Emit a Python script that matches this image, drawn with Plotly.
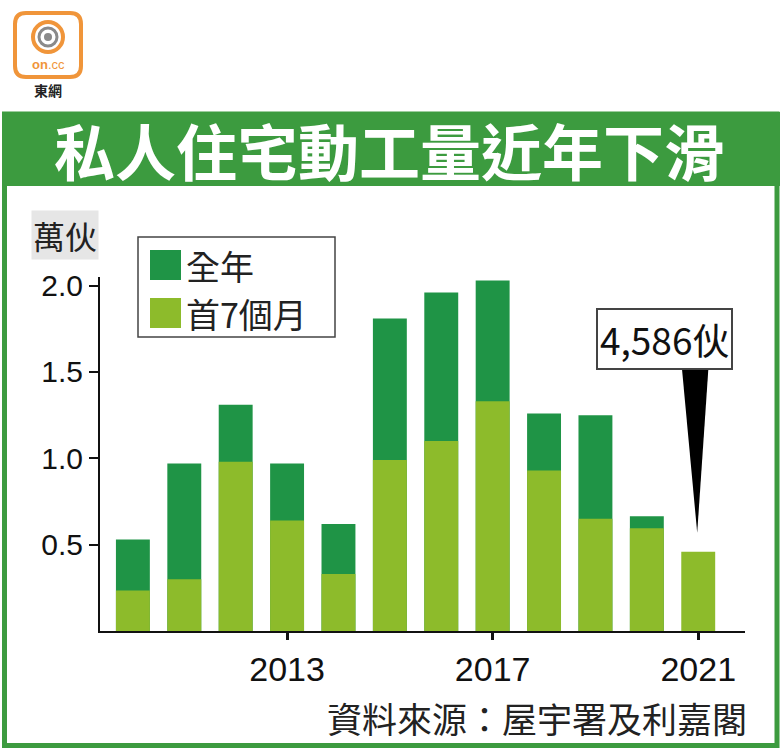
import plotly.graph_objects as go

# ---------------- data ----------------
years = [2010, 2011, 2012, 2013, 2014, 2015, 2016, 2017, 2018, 2019, 2020, 2021]
full_year = [0.53, 0.97, 1.31, 0.97, 0.62, 1.81, 1.96, 2.03, 1.26, 1.25, 0.665, None]
first_7m = [0.235, 0.30, 0.98, 0.64, 0.33, 0.99, 1.10, 1.33, 0.93, 0.65, 0.595, 0.4586]
y_ticks = [0.5, 1.0, 1.5, 2.0]
y_ticklabels = ["0.5", "1.0", "1.5", "2.0"]
x_ticks = [2013, 2017, 2021]
x_ticklabels = ["2013", "2017", "2021"]

title = "私人住宅動工量近年下滑"
unit = "萬伙"
legend_names = ["全年", "首7個月"]
source = "資料來源：屋宇署及利嘉閣"
callout_year = 2021
callout_value = first_7m[-1]

# ---------------- style ----------------
DARK = "#1f9446"
LIGHT = "#8dbb2b"
FRAME = "#3c9b3f"
CJK = "Noto Sans CJK TC"
NUM = "Liberation Sans Narrow, Liberation Sans, Arial"

W, H = 780, 748
L, R, T, B = 100, 745, 277, 631


def px(x):
    return (x - L) / (R - L)


def py(y):
    return (B - y) / (B - T)


fig = go.Figure()
fig.add_trace(go.Bar(x=years, y=full_year, name=legend_names[0], marker_color=DARK,
                     marker_line_width=0, width=0.66))
fig.add_trace(go.Bar(x=years, y=first_7m, name=legend_names[1], marker_color=LIGHT,
                     marker_line_width=0, width=0.66))

shapes = []
annotations = []

# outer frame and title bar
shapes.append(dict(type="rect", xref="paper", yref="paper", x0=px(4.5), x1=px(777), y0=py(114), y1=py(745.5),
                   line=dict(color=FRAME, width=5), fillcolor="rgba(0,0,0,0)", layer="below"))
shapes.append(dict(type="rect", xref="paper", yref="paper", x0=px(2), x1=px(780), y0=py(112), y1=py(186),
                   line=dict(width=0), fillcolor=FRAME, layer="below"))
annotations.append(dict(xref="paper", yref="paper", x=px(389), y=py(150), text="<b>" + title + "</b>",
                        showarrow=False, font=dict(family=CJK, size=61, color="white"),
                        xanchor="center", yanchor="middle"))

# logo
x0, x1, y0, y1, r = 15, 81, 13, 77, 11
path = (f"M {px(x0 + r)},{py(y0)} L {px(x1 - r)},{py(y0)} Q {px(x1)},{py(y0)} {px(x1)},{py(y0 + r)} "
        f"L {px(x1)},{py(y1 - r)} Q {px(x1)},{py(y1)} {px(x1 - r)},{py(y1)} "
        f"L {px(x0 + r)},{py(y1)} Q {px(x0)},{py(y1)} {px(x0)},{py(y1 - r)} "
        f"L {px(x0)},{py(y0 + r)} Q {px(x0)},{py(y0)} {px(x0 + r)},{py(y0)} Z")
shapes.append(dict(type="path", xref="paper", yref="paper", path=path,
                   line=dict(color="#f0953a", width=4), fillcolor="white"))
cx, cy = 48, 37
for rr, col, wd, fill in [(15, "#f0953a", 4, "rgba(0,0,0,0)"), (9, "#8a8a8a", 3, "rgba(0,0,0,0)"),
                          (4, "#8a8a8a", 0, "#8a8a8a")]:
    shapes.append(dict(type="circle", xref="paper", yref="paper", x0=px(cx - rr), x1=px(cx + rr),
                       y0=py(cy + rr), y1=py(cy - rr), line=dict(color=col, width=wd), fillcolor=fill))
annotations.append(dict(xref="paper", yref="paper", x=px(48), y=py(64), text="<b>on</b>.cc", showarrow=False,
                        font=dict(family="Liberation Sans", size=13, color="#f0953a"),
                        xanchor="center", yanchor="middle"))
annotations.append(dict(xref="paper", yref="paper", x=px(48), y=py(90), text="<b>東網</b>", showarrow=False,
                        font=dict(family=CJK, size=14, color="#222"), xanchor="center", yanchor="middle"))

# unit label
annotations.append(dict(xref="paper", yref="paper", x=px(65), y=py(235), text=unit, showarrow=False,
                        font=dict(family=CJK, size=32, color="#222"), bgcolor="#e6e6e6", borderpad=1,
                        xanchor="center", yanchor="middle"))

# legend
shapes.append(dict(type="rect", xref="paper", yref="paper", x0=px(138), x1=px(335), y0=py(237), y1=py(337),
                   line=dict(color="#444", width=1.5), fillcolor="white"))
for i, (name, col) in enumerate(zip(legend_names, [DARK, LIGHT])):
    top = 250 + 48 * i
    shapes.append(dict(type="rect", xref="paper", yref="paper", x0=px(150), x1=px(181),
                       y0=py(top), y1=py(top + 30), line=dict(width=0), fillcolor=col))
    annotations.append(dict(xref="paper", yref="paper", x=px(184), y=py(top + 15), text=name,
                            showarrow=False, font=dict(family=CJK, size=34, color="#222"),
                            xanchor="left", yanchor="middle"))

# callout
shapes.append(dict(type="path", xref="x", yref="y",
                   path=f"M {callout_year - 0.32},1.53 L {callout_year + 0.2},1.53 L {callout_year - 0.02},{callout_value + 0.11} Z",
                   line=dict(width=0), fillcolor="black"))
annotations.append(dict(xref="x", yref="y", x=callout_year - 0.65, y=1.69,
                        text=f"{round(callout_value * 10000):,}伙", showarrow=False,
                        font=dict(family=CJK, size=37, color="#111"), bgcolor="white",
                        bordercolor="#444", borderwidth=2, borderpad=2,
                        xanchor="center", yanchor="middle"))

# source
annotations.append(dict(xref="paper", yref="paper", x=px(749), y=py(717), text=source, showarrow=False,
                        font=dict(family=CJK, size=35, color="#222"), xanchor="right", yanchor="middle"))

fig.update_layout(
    width=W, height=H,
    margin=dict(l=L, r=W - R, t=T, b=H - B, pad=0),
    paper_bgcolor="white", plot_bgcolor="white",
    barmode="overlay", showlegend=False,
    shapes=shapes, annotations=annotations,
    xaxis=dict(range=[2009.36, 2021.91], tickvals=x_ticks, ticktext=x_ticklabels,
               showgrid=False, zeroline=False, showline=True, linecolor="#111", linewidth=2,
               ticks="outside", ticklen=7, tickwidth=3, tickcolor="#111",
               tickfont=dict(family=NUM, size=34, color="#111")),
    yaxis=dict(range=[0, 2.05], tickvals=y_ticks, ticktext=y_ticklabels,
               showgrid=False, zeroline=False, showline=True, linecolor="#111", linewidth=2,
               ticks="outside", ticklen=9, tickwidth=2, tickcolor="#111",
               tickfont=dict(family="Liberation Sans, Arial", size=30, color="#111")),
)

fig.write_html("out.html")
